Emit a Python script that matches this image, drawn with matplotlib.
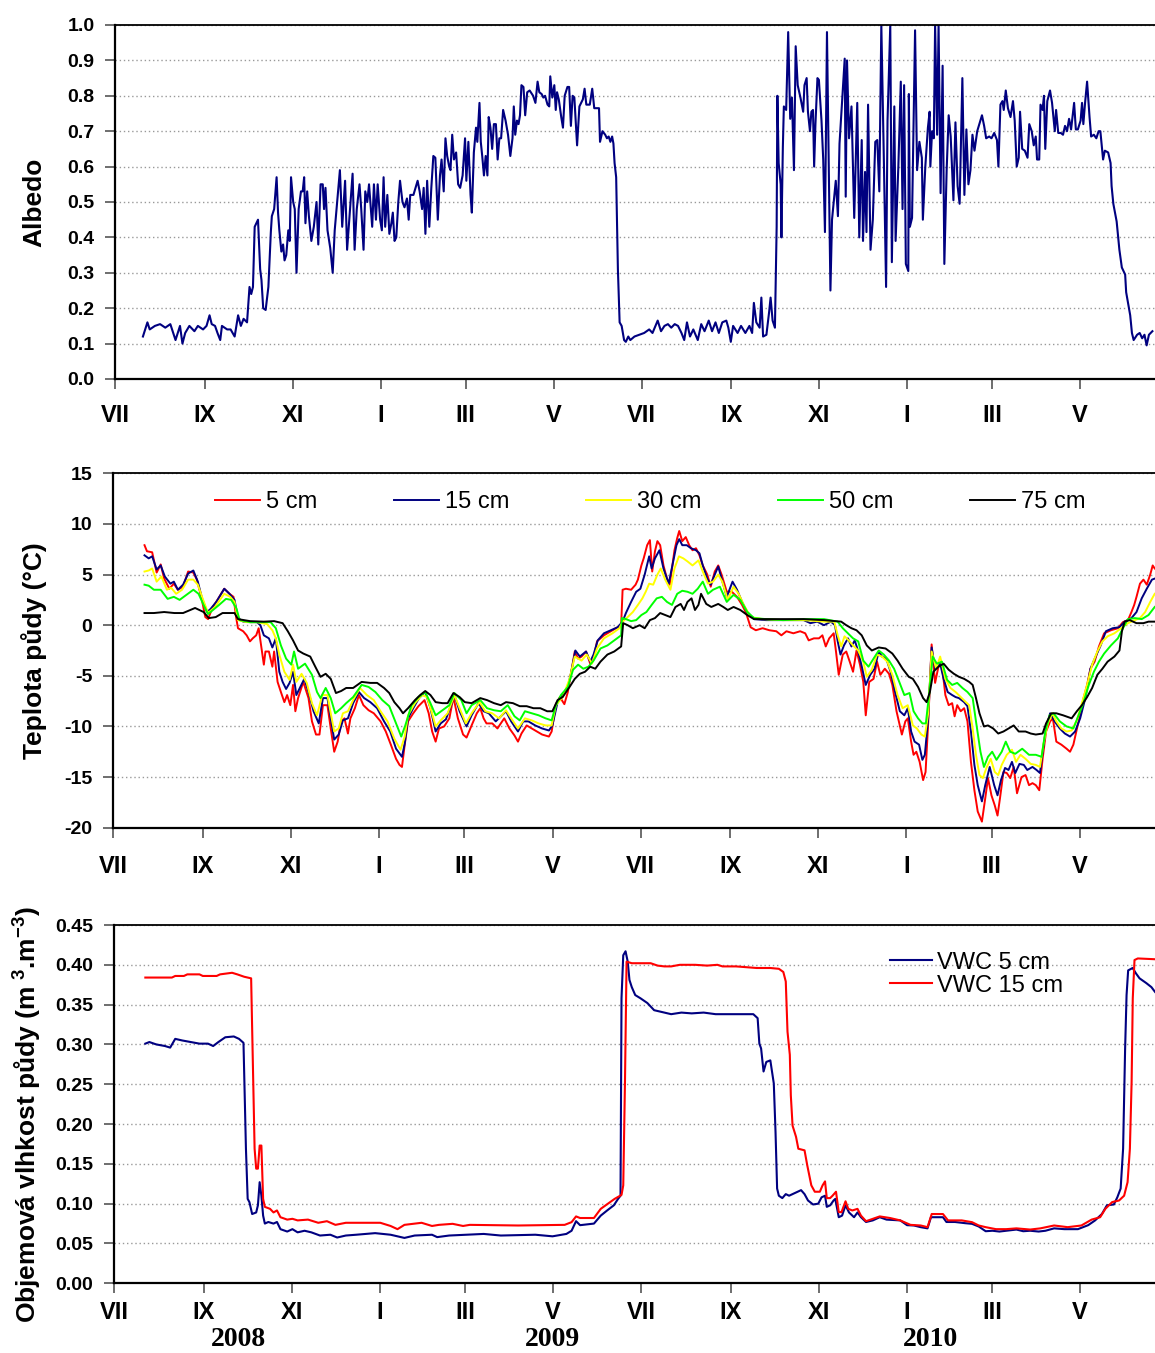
import matplotlib
matplotlib.use("Agg")
import matplotlib.pyplot as plt
import matplotlib.dates as mdates
from matplotlib.ticker import FuncFormatter, FormatStrFormatter, MultipleLocator
import numpy as np
from datetime import datetime

plt.rcParams["font.family"] = ["Liberation Sans", "DejaVu Sans"]
plt.rcParams["mathtext.default"] = "regular"
plt.rcParams["axes.unicode_minus"] = False

# den 0 = 1.7.2008
START = mdates.date2num(datetime(2008, 7, 1))
END_DAY = 721

# --- albedo (den, hodnota) ---
albedo = [
    (19.1, 0.12), (22.2, 0.16), (23.8, 0.14), (27.4, 0.15), (31.0, 0.155), (34.6, 0.145), (38.1, 0.155),
    (39.3, 0.14), (41.7, 0.11), (44.8, 0.15), (46.5, 0.10), (48.4, 0.13), (51.3, 0.15), (54.8, 0.135),
    (57.2, 0.15), (60.8, 0.14), (63.2, 0.15), (65.3, 0.18), (66.8, 0.155), (69.1, 0.15), (70.8, 0.13),
    (72.7, 0.11), (73.9, 0.15), (77.5, 0.14), (79.9, 0.14), (82.7, 0.12), (85.1, 0.18), (87.0, 0.15),
    (88.9, 0.17), (91.3, 0.16), (93.0, 0.26), (94.2, 0.24), (95.4, 0.26), (96.6, 0.43), (98.9, 0.45),
    (100.4, 0.31), (101.3, 0.28), (102.5, 0.20), (104.2, 0.195), (106.1, 0.26), (107.8, 0.415), (108.5, 0.46),
    (110.1, 0.48), (111.8, 0.57), (112.8, 0.47), (113.7, 0.42), (115.1, 0.36), (116.3, 0.38), (117.3, 0.335),
    (118.5, 0.35), (119.9, 0.42), (120.9, 0.39), (121.8, 0.57), (123.3, 0.50), (124.4, 0.48), (125.6, 0.30),
    (127.1, 0.48), (128.7, 0.53), (129.9, 0.53), (130.9, 0.57), (131.8, 0.44), (133.0, 0.53), (134.2, 0.46),
    (135.9, 0.39), (137.6, 0.43), (139.5, 0.50), (140.7, 0.38), (142.3, 0.55), (143.8, 0.55), (144.7, 0.48),
    (145.7, 0.54), (147.1, 0.42), (149.0, 0.37), (150.7, 0.30), (152.1, 0.42), (153.8, 0.50), (155.7, 0.59),
    (157.3, 0.43), (159.3, 0.56), (160.7, 0.365), (162.8, 0.485), (164.5, 0.58), (165.9, 0.365), (167.4, 0.48),
    (169.3, 0.55), (170.5, 0.48), (172.1, 0.365), (173.3, 0.53), (174.7, 0.50), (175.9, 0.55), (178.1, 0.43),
    (179.3, 0.55), (180.7, 0.45), (181.9, 0.55), (183.6, 0.45), (184.8, 0.42), (186.0, 0.57), (187.1, 0.43),
    (188.6, 0.52), (190.0, 0.41), (191.4, 0.44), (192.4, 0.47), (193.6, 0.39), (194.8, 0.40), (196.2, 0.50),
    (197.4, 0.56), (199.1, 0.50), (200.5, 0.485), (202.2, 0.51), (203.4, 0.45), (204.5, 0.52), (206.7, 0.52),
    (209.6, 0.56), (211.0, 0.53), (212.7, 0.48), (213.8, 0.54), (215.0, 0.41), (216.2, 0.56), (217.7, 0.43),
    (219.1, 0.54), (220.5, 0.63), (221.9, 0.625), (223.6, 0.45), (225.1, 0.575), (226.2, 0.62), (227.7, 0.53),
    (228.9, 0.68), (230.1, 0.63), (231.5, 0.60), (232.4, 0.59), (233.6, 0.69), (234.8, 0.62), (236.3, 0.64),
    (237.7, 0.55), (239.1, 0.54), (240.8, 0.575), (242.5, 0.68), (243.4, 0.56), (244.8, 0.67), (246.3, 0.52),
    (247.2, 0.47), (248.6, 0.64), (250.1, 0.71), (251.0, 0.67), (252.5, 0.78), (253.4, 0.67), (254.4, 0.63),
    (255.6, 0.575), (256.8, 0.63), (258.0, 0.575), (258.9, 0.74), (260.1, 0.71), (261.3, 0.65), (262.5, 0.72),
    (263.9, 0.72), (265.1, 0.62), (266.3, 0.68), (267.5, 0.68), (268.9, 0.76), (270.6, 0.73), (272.3, 0.69),
    (273.9, 0.63), (275.4, 0.68), (276.3, 0.77), (277.3, 0.69), (278.5, 0.73), (279.6, 0.72), (280.6, 0.745),
    (281.6, 0.83), (283.0, 0.825), (284.2, 0.745), (285.6, 0.81), (287.3, 0.815), (289.7, 0.80), (291.3, 0.78),
    (292.8, 0.84), (294.0, 0.81), (295.6, 0.805), (296.8, 0.795), (298.0, 0.80), (299.7, 0.775), (300.9, 0.77),
    (301.6, 0.855), (303.0, 0.795), (304.4, 0.83), (305.4, 0.76), (306.3, 0.81), (307.5, 0.79), (309.2, 0.74),
    (310.4, 0.71), (311.6, 0.80), (313.5, 0.825), (314.7, 0.825), (315.9, 0.715), (317.1, 0.80), (318.3, 0.795),
    (320.2, 0.66), (321.8, 0.77), (324.2, 0.79), (325.4, 0.82), (326.6, 0.775), (329.0, 0.775), (330.7, 0.82),
    (332.1, 0.765), (335.4, 0.765), (336.1, 0.67), (337.8, 0.70), (339.7, 0.69), (340.9, 0.68), (342.1, 0.685),
    (343.3, 0.67), (344.5, 0.685), (345.4, 0.665), (346.2, 0.61), (347.3, 0.57), (348.5, 0.31), (349.7, 0.16),
    (351.1, 0.15), (352.8, 0.11), (354.0, 0.105), (355.7, 0.12), (357.1, 0.11), (360.0, 0.12),
    (366.7, 0.13), (370.2, 0.14), (372.5, 0.13), (376.1, 0.165), (378.4, 0.135), (380.8, 0.15), (383.2, 0.155),
    (385.5, 0.145), (387.9, 0.155), (390.2, 0.15), (392.6, 0.13), (394.5, 0.11), (396.4, 0.16), (398.5, 0.12),
    (400.8, 0.14), (403.9, 0.11), (406.3, 0.155), (408.6, 0.135), (411.5, 0.165), (413.8, 0.135), (416.2, 0.16),
    (418.5, 0.13), (420.9, 0.16), (423.7, 0.165), (425.1, 0.145), (426.8, 0.105), (428.4, 0.15), (431.5, 0.13),
    (433.9, 0.15), (436.9, 0.13), (439.7, 0.15), (441.6, 0.13), (442.8, 0.215), (444.5, 0.16), (446.8, 0.145),
    (448.0, 0.23), (449.2, 0.12), (451.5, 0.125), (453.4, 0.19), (454.4, 0.23), (455.8, 0.165), (457.4, 0.145),
    (458.6, 0.43), (459.1, 0.80), (460.0, 0.61), (461.4, 0.55), (461.9, 0.40), (462.9, 0.655), (463.6, 0.77),
    (465.2, 0.76), (466.6, 0.98), (468.0, 0.735), (469.2, 0.795), (470.6, 0.59), (471.8, 0.94), (473.2, 0.83),
    (475.1, 0.795), (477.0, 0.755), (477.9, 0.83), (479.4, 0.85), (480.3, 0.755), (481.7, 0.70), (482.7, 0.755),
    (483.8, 0.76), (484.6, 0.60), (485.5, 0.72), (486.9, 0.85), (487.9, 0.845), (489.7, 0.73), (490.9, 0.62),
    (492.1, 0.415), (493.5, 0.98), (494.9, 0.56), (495.9, 0.25), (497.0, 0.45), (498.7, 0.52), (499.6, 0.56),
    (501.1, 0.46), (502.2, 0.665), (503.9, 0.78), (505.8, 0.905), (506.5, 0.515), (507.4, 0.90), (508.8, 0.68),
    (510.5, 0.77), (512.4, 0.455), (514.5, 0.78), (515.9, 0.40), (517.6, 0.675), (518.5, 0.39), (519.9, 0.585),
    (520.9, 0.415), (522.0, 0.775), (523.7, 0.365), (525.3, 0.45), (527.0, 0.67), (528.4, 0.675), (529.8, 0.53),
    (531.2, 1.0), (532.9, 0.63), (534.5, 0.26), (535.5, 0.73), (537.4, 1.0), (538.5, 0.33), (540.2, 0.77),
    (541.1, 0.39), (543.0, 0.60), (544.7, 0.84), (545.9, 0.48), (547.0, 0.83), (548.2, 0.325), (549.9, 0.305),
    (550.3, 0.805), (551.0, 0.43), (552.5, 0.455), (554.6, 0.985), (556.0, 0.59), (557.6, 0.67), (559.3, 0.625),
    (560.0, 0.45), (561.7, 0.60), (563.5, 0.71), (564.7, 0.755), (565.2, 0.60), (566.4, 0.70), (567.6, 0.68),
    (568.5, 1.0), (569.9, 0.69), (570.9, 1.0), (572.3, 0.525), (573.7, 0.885), (574.9, 0.325), (576.5, 0.59),
    (577.9, 0.745), (579.3, 0.685), (581.2, 0.505), (582.6, 0.725), (584.1, 0.545), (585.5, 0.495), (587.4, 0.85),
    (588.8, 0.52), (590.2, 0.705), (591.6, 0.55), (593.0, 0.59), (594.4, 0.69), (595.8, 0.645), (597.7, 0.70),
    (601.0, 0.745), (602.5, 0.715), (603.9, 0.68), (606.0, 0.685), (607.6, 0.68), (609.5, 0.695), (611.4, 0.675),
    (612.4, 0.60), (613.8, 0.775), (615.2, 0.785), (616.1, 0.76), (617.5, 0.815), (619.0, 0.765), (620.8, 0.74),
    (622.5, 0.785), (623.7, 0.73), (625.1, 0.60), (626.5, 0.625), (627.4, 0.755), (628.9, 0.65), (630.7, 0.645),
    (632.6, 0.625), (633.8, 0.72), (635.5, 0.70), (636.9, 0.66), (638.3, 0.685), (639.2, 0.62), (640.7, 0.62),
    (641.6, 0.775), (643.0, 0.76), (644.0, 0.80), (644.9, 0.65), (646.3, 0.785), (648.2, 0.815), (649.6, 0.78),
    (651.5, 0.70), (652.4, 0.76), (653.9, 0.695), (655.7, 0.695), (657.2, 0.69), (658.6, 0.715), (660.0, 0.70),
    (661.4, 0.735), (662.8, 0.705), (664.9, 0.78), (666.1, 0.705), (667.5, 0.705), (669.4, 0.73), (670.4, 0.78),
    (671.3, 0.72), (672.5, 0.78), (673.9, 0.84), (675.6, 0.74), (676.7, 0.685), (678.6, 0.69), (680.3, 0.68),
    (681.9, 0.70), (683.1, 0.70), (685.0, 0.62), (686.2, 0.645), (688.5, 0.64), (690.2, 0.61), (690.9, 0.545),
    (692.1, 0.495), (694.4, 0.445), (696.3, 0.365), (698.0, 0.315), (700.3, 0.295), (701.0, 0.245), (702.7, 0.205),
    (703.8, 0.18), (705.0, 0.13), (706.2, 0.11), (708.6, 0.125), (710.4, 0.13), (712.1, 0.115), (713.7, 0.125),
    (715.2, 0.095), (716.8, 0.125), (719.2, 0.135),
]

# --- teplota pudy (den, degC) ---
t5 = [
    (21.6, 7.9), (23.3, 7.3), (26.9, 7.2), (30.0, 5.2), (32.8, 6.0), (35.2, 4.6), (38.8, 3.6), (41.9, 4.1),
    (44.7, 3.5), (48.3, 3.8), (51.8, 5.3), (55.4, 5.2), (57.8, 4.5), (60.9, 2.8), (63.7, 0.8), (65.6, 0.6),
    (68.5, 1.7), (72.1, 2.5), (76.8, 3.6), (80.4, 3.1), (83.2, 2.8), (85.1, 0.7), (86.3, -0.3), (89.9, -0.6),
    (92.3, -1.0), (94.6, -1.6), (96.5, -1.3), (98.9, -1.0), (100.6, -0.3), (102.3, -2.0), (104.2, -3.9),
    (105.3, -2.6), (107.7, -2.6), (110.1, -4.1), (111.3, -2.6), (113.7, -5.6), (116.0, -6.6), (118.4, -7.6),
    (120.3, -6.9), (122.5, -7.9), (124.4, -5.9), (126.0, -8.5), (127.9, -7.2), (131.5, -5.6), (135.1, -7.2),
    (137.5, -9.5), (140.3, -10.8), (142.7, -10.8), (145.1, -7.9), (148.2, -7.9), (150.5, -10.2), (152.9, -12.5),
    (155.3, -11.5), (157.7, -9.5), (160.0, -9.2), (162.4, -10.7), (164.1, -9.2), (167.2, -8.2), (170.0, -6.9),
    (173.1, -7.9), (176.7, -8.4), (180.3, -8.7), (185.0, -9.5), (188.6, -10.5), (192.1, -11.8), (195.7, -13.2),
    (198.1, -13.8), (199.8, -14.0), (201.7, -11.8), (204.0, -9.5), (207.6, -8.7), (211.2, -8.0), (215.4, -7.4),
    (218.3, -8.7), (220.7, -10.5), (223.1, -11.5), (225.4, -10.2), (229.0, -10.0), (232.6, -9.2), (235.4, -7.1),
    (238.5, -9.2), (242.1, -10.8), (244.5, -11.1), (248.0, -9.9), (251.6, -8.7), (254.0, -8.2), (256.3, -9.2),
    (258.3, -9.7), (262.3, -9.7), (265.9, -10.2), (268.2, -9.7), (270.6, -9.2), (274.2, -10.2), (277.7, -10.9),
    (280.1, -11.5), (282.5, -10.7), (286.1, -9.9), (289.6, -10.2), (293.2, -10.5), (296.8, -10.8), (301.5, -11.0),
    (303.4, -10.5), (306.3, -7.8), (309.1, -7.1), (312.2, -7.8), (314.6, -6.6), (317.0, -4.6), (319.4, -2.6),
    (321.7, -3.3), (324.1, -3.1), (327.2, -2.6), (330.1, -3.8), (332.4, -3.3), (334.8, -1.6), (339.6, -1.0),
    (344.3, -0.6), (349.1, -0.2), (351.5, 0.0),
    (352.5, 3.5), (354.8, 3.6), (358.4, 3.5), (361.5, 4.0), (363.1, 4.5), (365.5, 5.9), (367.1, 6.6),
    (369.5, 7.9), (371.4, 8.4), (373.0, 5.3), (374.9, 7.3), (376.6, 8.3), (378.5, 7.9), (380.8, 5.9),
    (383.2, 4.6), (385.1, 4.0), (386.7, 5.6), (388.4, 7.4), (390.3, 8.6), (391.7, 9.3), (393.8, 8.3),
    (396.2, 8.7), (398.6, 7.9), (400.9, 7.4), (403.3, 7.6), (405.7, 6.9), (408.0, 5.9), (411.1, 5.0),
    (413.5, 3.8), (416.3, 5.3), (418.7, 5.9), (421.0, 5.0), (424.6, 3.3), (428.1, 3.3), (431.7, 2.8),
    (435.2, 2.0), (438.0, 1.2), (441.1, -0.2), (444.7, -0.5), (449.4, -0.3), (454.1, -0.5), (458.9, -0.6),
    (462.4, -1.0), (465.9, -0.6), (470.7, -0.8), (475.4, -0.6), (478.9, -0.8), (481.3, -1.5), (484.9, -1.3),
    (488.4, -1.3), (490.8, -1.0), (493.1, -2.1), (495.5, -1.3), (498.6, -0.8), (500.2, -2.6), (502.1, -4.9),
    (504.9, -2.9), (507.3, -2.6), (509.7, -3.6), (512.0, -4.6), (514.4, -2.5), (516.8, -3.9), (519.1, -5.6),
    (520.8, -8.9), (523.2, -5.6), (526.2, -5.3), (528.6, -3.6), (530.9, -4.9), (534.0, -4.3), (536.9, -4.8),
    (539.2, -5.9), (542.1, -8.5), (545.8, -10.8), (548.2, -9.5), (549.9, -9.2), (552.2, -11.5), (553.9, -12.8),
    (555.8, -12.5), (558.1, -13.5), (560.5, -15.3), (562.2, -14.5), (564.0, -9.7), (566.4, -1.9), (568.8, -5.7),
    (571.1, -4.1), (573.5, -3.9), (575.9, -6.9), (578.2, -7.9), (580.6, -7.7), (582.3, -9.0), (584.1, -7.9),
    (586.5, -8.5), (588.9, -8.2), (591.2, -9.5), (593.6, -13.5), (596.0, -16.3), (598.3, -18.4), (601.2, -19.4),
    (603.5, -17.1), (605.4, -15.1), (607.8, -16.8), (610.1, -17.8), (612.0, -18.8), (613.7, -17.1), (616.1, -14.5),
    (618.4, -14.6), (620.8, -15.1), (623.2, -14.0), (625.5, -16.6), (628.6, -15.0), (631.4, -14.8), (633.8, -15.8),
    (636.2, -15.6), (638.5, -15.8), (640.9, -16.3), (643.2, -13.2), (645.6, -10.5), (648.4, -9.5), (650.3, -9.2),
    (652.7, -11.5), (656.2, -11.8), (659.8, -12.2), (662.2, -12.5), (664.5, -11.8), (668.1, -9.5), (671.6, -7.2),
    (674.0, -5.9), (676.3, -4.3), (679.2, -3.6), (682.2, -2.1), (685.8, -0.8), (690.5, -0.5), (695.3, -0.3),
    (698.8, 0.3), (702.3, 0.5), (704.7, 1.3), (706.6, 2.0), (708.2, 2.8), (710.6, 4.1), (713.0, 4.5),
    (715.3, 4.0), (717.7, 5.0), (719.4, 5.9), (720.8, 5.6),
]

t15 = [
    (21.6, 6.9), (24.5, 6.6), (26.9, 6.8), (30.0, 5.5), (32.8, 5.9), (35.7, 4.8), (39.5, 4.1), (41.9, 4.3),
    (44.7, 3.5), (48.3, 4.0), (51.8, 5.1), (55.4, 5.4), (58.5, 4.3), (61.4, 2.65), (64.9, 1.3), (67.3, 1.6),
    (71.3, 2.3), (76.8, 3.6), (80.4, 3.1), (83.9, 2.5), (86.3, 0.7), (89.9, 0.35), (94.6, 0.3), (99.4, 0.3),
    (101.8, 0.0), (104.2, -1.0), (107.7, -1.3), (110.1, -2.2), (112.5, -1.3), (114.9, -4.6), (117.2, -5.6),
    (119.6, -6.3), (122.0, -5.7), (124.4, -4.6), (126.7, -6.9), (129.1, -6.2), (132.2, -5.3), (135.1, -6.6),
    (138.6, -8.5), (142.2, -9.7), (145.1, -7.2), (148.2, -7.2), (150.5, -9.2), (152.9, -11.3), (156.0, -10.8),
    (158.9, -9.4), (162.4, -9.2), (166.0, -7.7), (170.0, -6.6), (173.6, -7.2), (177.9, -7.6), (182.6, -8.2),
    (187.4, -9.5), (191.7, -10.5), (195.7, -12.2), (199.8, -13.0), (201.7, -11.7), (204.0, -9.2), (207.6, -8.2),
    (211.6, -7.2), (215.9, -6.6), (219.5, -8.2), (223.1, -10.5), (226.6, -9.7), (230.2, -9.3), (233.8, -7.9),
    (236.1, -6.9), (239.7, -8.5), (244.5, -10.0), (248.0, -8.9), (252.8, -7.7), (256.3, -8.5), (259.9, -8.7),
    (264.7, -9.5), (268.2, -9.0), (271.8, -8.5), (275.4, -9.5), (280.1, -10.5), (283.7, -9.5), (287.3, -9.5),
    (292.0, -9.9), (296.8, -10.2), (301.5, -10.4), (303.9, -9.9), (307.5, -7.6), (311.0, -6.9), (314.6, -6.1),
    (317.0, -4.6), (319.8, -2.5), (322.9, -3.1), (327.2, -2.6), (330.1, -3.6), (332.4, -2.9), (335.3, -1.5),
    (339.6, -0.8), (344.3, -0.5), (349.1, -0.2),
    (352.5, 0.35), (354.8, 1.2), (358.4, 2.3), (361.9, 3.3), (364.8, 3.6), (367.8, 5.0), (370.9, 6.8),
    (372.6, 5.6), (374.9, 6.6), (378.0, 7.4), (380.8, 5.6), (384.4, 4.1), (387.5, 6.3), (389.8, 7.9),
    (391.7, 8.5), (393.8, 7.9), (396.9, 7.9), (399.8, 7.6), (403.3, 7.4), (405.7, 7.1), (408.0, 5.9),
    (411.1, 4.6), (413.5, 4.0), (416.3, 5.0), (418.7, 5.8), (421.0, 4.6), (424.6, 2.8), (428.6, 4.3),
    (431.7, 3.5), (435.2, 2.3), (438.8, 1.3), (443.5, 0.6), (451.8, 0.5), (461.2, 0.5), (470.7, 0.5),
    (477.8, 0.5), (482.5, 0.2), (487.2, 0.35), (491.9, 0.0), (496.7, 0.35), (499.5, 0.0), (501.4, -1.6),
    (503.3, -2.9), (505.7, -2.0), (508.5, -1.3), (510.9, -2.1), (513.2, -1.5), (515.6, -2.6), (518.4, -4.3),
    (520.8, -5.9), (523.9, -4.9), (526.9, -4.3), (529.8, -2.6), (532.1, -3.1), (535.0, -3.3), (538.0, -4.6),
    (541.1, -6.6), (544.4, -8.5), (547.5, -8.9), (549.9, -8.2), (552.2, -10.5), (554.6, -11.5), (557.7, -11.8),
    (560.0, -13.3), (561.7, -12.8), (564.0, -9.2), (566.4, -2.2), (568.8, -4.3), (572.3, -3.8), (574.7, -5.3),
    (577.5, -6.6), (580.6, -6.9), (583.0, -7.1), (585.3, -7.2), (588.9, -7.6), (591.2, -8.0), (593.6, -10.5),
    (596.0, -13.8), (598.3, -15.8), (601.2, -17.4), (603.5, -15.8), (606.6, -14.0), (609.7, -15.8), (612.0, -16.8),
    (614.4, -15.3), (617.2, -14.1), (619.6, -14.3), (622.0, -13.5), (624.3, -14.6), (627.2, -13.7), (630.2, -13.8),
    (632.6, -14.3), (636.2, -14.0), (639.0, -14.3), (641.4, -14.6), (643.2, -12.5), (645.6, -10.2), (648.4, -8.7),
    (651.5, -9.5), (655.1, -10.2), (658.6, -10.7), (662.2, -11.0), (665.7, -10.5), (669.2, -9.2), (672.8, -7.2),
    (676.3, -4.3), (679.9, -3.1), (683.4, -2.0), (687.0, -0.6), (691.7, -0.3), (696.4, -0.2), (700.0, 0.35),
    (704.7, 0.7), (708.2, 1.3), (711.8, 2.65), (715.3, 3.6), (718.9, 4.5), (720.8, 4.6),
]

t30 = [
    (21.6, 5.3), (24.5, 5.4), (26.9, 5.6), (30.0, 4.3), (33.3, 4.8), (37.1, 3.5), (40.0, 3.7), (43.5, 3.1),
    (47.6, 3.5), (51.8, 4.5), (55.4, 4.5), (58.5, 4.0), (61.8, 2.65), (65.6, 1.2), (70.4, 1.8), (76.8, 3.1),
    (80.9, 2.8), (83.9, 2.3), (86.3, 0.5), (92.3, 0.3), (99.4, 0.3), (106.5, 0.1), (110.1, -0.5), (112.5, -1.3),
    (114.9, -2.9), (118.4, -4.6), (122.0, -5.4), (124.4, -3.9), (126.7, -5.6), (130.3, -4.8), (133.9, -5.7),
    (137.5, -7.7), (141.0, -8.9), (144.6, -6.9), (148.2, -6.9), (150.5, -8.7), (152.9, -10.5), (156.0, -10.2),
    (158.9, -8.7), (162.4, -8.5), (166.0, -7.4), (170.7, -6.2), (175.5, -6.9), (180.3, -7.4), (185.0, -8.5),
    (189.8, -9.5), (194.5, -11.2), (198.8, -12.3), (201.7, -11.0), (204.0, -8.9), (208.8, -7.7), (213.5, -6.9),
    (217.1, -7.1), (220.2, -8.5), (223.1, -10.0), (226.6, -9.4), (231.4, -8.7), (236.1, -6.9), (239.7, -8.2),
    (244.0, -9.7), (248.0, -8.7), (253.5, -7.6), (257.5, -8.5), (262.3, -8.7), (267.0, -9.2), (271.8, -8.4),
    (275.4, -9.2), (280.1, -10.2), (284.9, -9.2), (289.6, -9.4), (294.4, -9.7), (299.2, -9.9), (303.4, -9.9),
    (306.3, -7.9), (311.0, -7.1), (315.8, -5.3), (319.4, -3.1), (324.1, -3.5), (327.7, -2.9), (331.3, -3.8),
    (334.8, -2.3), (339.6, -1.3), (345.5, -0.8), (350.3, -0.3),
    (352.5, 0.35), (356.0, 0.8), (359.6, 1.3), (363.1, 2.0), (366.2, 2.65), (368.5, 3.3), (370.9, 4.1),
    (373.7, 4.0), (376.6, 5.0), (378.9, 5.6), (382.0, 4.5), (385.6, 3.5), (388.4, 5.6), (391.5, 6.8),
    (394.5, 6.6), (397.4, 6.3), (400.9, 5.9), (405.0, 6.4), (408.0, 5.3), (411.6, 4.1), (415.1, 4.3),
    (418.7, 5.0), (421.5, 4.3), (425.3, 2.5), (429.3, 3.8), (432.8, 3.1), (436.4, 2.0), (441.1, 0.8),
    (449.4, 0.6), (463.6, 0.5), (477.8, 0.5), (491.9, 0.35), (499.0, 0.35), (501.4, -1.0), (503.8, -2.1),
    (506.1, -1.1), (509.0, -1.5), (512.0, -2.0), (515.6, -2.5), (519.1, -3.6), (521.5, -5.1), (525.0, -4.4),
    (528.6, -2.9), (532.1, -3.1), (535.7, -3.6), (539.2, -4.9), (542.8, -6.9), (546.3, -8.2), (549.9, -7.9),
    (553.4, -9.9), (556.2, -10.2), (559.3, -10.8), (561.7, -11.0), (564.0, -8.7), (566.4, -2.6), (569.5, -4.3),
    (572.3, -3.1), (575.9, -5.3), (579.4, -6.2), (583.0, -6.6), (586.5, -7.1), (590.1, -7.6), (592.4, -7.9),
    (594.8, -10.2), (597.1, -12.8), (599.5, -14.8), (601.9, -15.1), (604.3, -14.1), (607.3, -13.2), (610.1, -14.5),
    (612.5, -14.8), (614.9, -13.8), (618.4, -12.8), (622.0, -12.3), (624.8, -13.5), (627.9, -12.8), (631.4, -13.2),
    (635.0, -13.7), (638.5, -13.8), (641.4, -14.0), (643.7, -11.8), (646.8, -9.7), (649.9, -8.7), (652.7, -9.5),
    (656.2, -10.2), (659.8, -10.5), (663.3, -10.4), (666.9, -9.4), (670.4, -7.7), (674.0, -5.9), (677.5, -3.9),
    (681.1, -2.6), (684.6, -1.6), (688.2, -1.1), (692.9, -0.8), (697.6, -0.3), (702.3, 0.2), (707.1, 0.5),
    (710.6, 0.7), (714.2, 1.3), (717.7, 2.3), (720.8, 3.1),
]

t50 = [
    (21.6, 4.0), (24.5, 3.9), (28.1, 3.5), (32.8, 3.5), (37.6, 2.6), (41.9, 2.8), (45.9, 2.5), (50.7, 3.0),
    (55.4, 3.5), (59.0, 3.1), (62.5, 2.0), (65.6, 1.1), (69.0, 1.5), (73.2, 2.0), (78.0, 2.6), (81.6, 2.5),
    (85.1, 1.7), (87.5, 0.5), (94.6, 0.3), (101.8, 0.3), (108.9, 0.3), (112.5, -0.3), (116.0, -2.0),
    (119.6, -3.3), (123.2, -3.9), (125.1, -2.6), (127.9, -4.3), (132.7, -3.8), (137.5, -4.9), (141.0, -6.6),
    (143.4, -7.2), (147.0, -6.2), (150.5, -7.2), (153.6, -8.7), (157.7, -8.2), (161.2, -7.7), (166.0, -7.1),
    (171.9, -5.9), (176.7, -6.1), (181.4, -6.6), (186.2, -7.4), (191.0, -8.0), (195.7, -9.7), (199.3, -11.0),
    (202.1, -9.9), (206.4, -7.9), (211.2, -7.1), (215.9, -6.6), (219.5, -7.7), (223.1, -8.9), (227.8, -8.4),
    (232.6, -7.9), (236.1, -6.7), (240.9, -7.4), (244.5, -8.7), (248.0, -7.9), (254.0, -7.4), (258.7, -8.2),
    (263.5, -8.4), (268.2, -8.5), (273.0, -7.9), (277.7, -9.0), (281.3, -9.4), (284.9, -8.5), (289.6, -8.7),
    (294.4, -8.9), (299.2, -9.2), (303.4, -9.4), (306.3, -7.9), (309.8, -6.9), (314.6, -6.1), (318.2, -4.4),
    (321.7, -3.9), (325.3, -4.3), (328.9, -4.1), (332.4, -3.5), (337.2, -2.3), (342.0, -2.0), (346.7, -1.5),
    (351.5, -1.0),
    (352.0, 0.7), (354.8, 0.6), (358.4, 0.4), (361.9, 0.5), (365.5, 1.0), (369.0, 1.3), (372.6, 2.0),
    (376.1, 2.65), (379.7, 2.8), (383.2, 2.3), (386.7, 2.0), (390.3, 3.1), (393.8, 3.4), (397.4, 3.3),
    (400.9, 3.1), (404.5, 3.6), (408.0, 4.3), (411.6, 3.1), (415.1, 3.5), (419.8, 3.8), (424.6, 2.3),
    (429.3, 3.0), (434.0, 2.5), (438.8, 1.3), (443.5, 0.7), (451.8, 0.6), (463.6, 0.5), (477.8, 0.6),
    (491.9, 0.6), (501.4, 0.35), (504.9, -0.3), (508.5, -0.8), (512.0, -1.3), (515.6, -1.6), (519.1, -3.5),
    (522.7, -4.1), (526.2, -3.3), (529.8, -2.5), (533.3, -2.9), (536.9, -3.5), (540.4, -4.3), (544.0, -5.6),
    (547.5, -6.9), (551.1, -6.7), (553.9, -8.5), (557.0, -9.2), (560.0, -9.7), (562.4, -9.7), (564.8, -6.6),
    (567.1, -3.1), (570.0, -3.8), (573.5, -3.6), (577.1, -5.4), (580.6, -5.9), (584.1, -5.7), (587.7, -6.2),
    (591.2, -6.6), (594.8, -7.2), (597.1, -9.5), (600.2, -12.5), (602.6, -14.0), (605.4, -13.0), (608.3, -12.5),
    (611.3, -13.3), (614.9, -12.5), (617.7, -11.5), (620.8, -12.5), (624.3, -12.7), (629.1, -12.2), (633.8, -12.8),
    (638.5, -12.8), (642.5, -13.0), (645.1, -10.5), (648.0, -8.9), (650.8, -8.7), (655.1, -9.5), (659.8, -10.0),
    (664.5, -10.2), (668.1, -8.9), (671.6, -7.6), (675.2, -5.9), (678.7, -4.6), (682.2, -3.6), (685.8, -2.8),
    (690.5, -2.0), (695.3, -1.3), (698.8, -0.3), (702.3, 0.6), (707.1, 0.7), (711.8, 0.6), (716.5, 1.0),
    (720.8, 1.8),
]

t75 = [
    (21.6, 1.2), (28.1, 1.2), (35.2, 1.3), (42.3, 1.2), (48.3, 1.2), (56.6, 1.7), (62.5, 1.3), (66.1, 0.7),
    (70.9, 0.8), (75.6, 1.2), (83.9, 1.2), (86.3, 0.6), (94.6, 0.4), (104.2, 0.35), (111.3, 0.4), (117.2, 0.2),
    (120.8, -0.6), (124.4, -1.5), (127.9, -2.5), (131.5, -2.8), (136.3, -3.1), (139.8, -4.1), (143.4, -5.1),
    (147.0, -4.8), (150.5, -5.3), (154.1, -6.7), (157.7, -6.5), (161.2, -6.2), (166.0, -6.2), (171.9, -5.6),
    (177.9, -5.7), (182.6, -5.7), (187.4, -6.2), (191.0, -6.7), (194.5, -7.6), (198.1, -8.2), (200.5, -8.7),
    (204.0, -8.2), (208.8, -7.4), (212.4, -6.9), (215.9, -6.5), (219.5, -6.9), (223.1, -7.6), (227.8, -7.7),
    (231.4, -7.7), (235.4, -6.7), (239.7, -7.1), (243.3, -7.6), (248.0, -7.7), (254.0, -7.2), (258.7, -7.4),
    (263.5, -7.7), (268.2, -7.9), (271.8, -7.6), (276.6, -7.7), (281.3, -8.0), (286.1, -8.0), (290.8, -8.2),
    (295.6, -8.2), (300.3, -8.5), (303.9, -8.5), (307.5, -7.4), (311.0, -7.1), (315.8, -6.1), (319.4, -5.3),
    (322.9, -4.8), (326.5, -4.6), (330.1, -4.1), (333.6, -4.3), (337.2, -3.6), (342.0, -2.9), (346.7, -2.6),
    (351.5, -2.1),
    (352.9, 0.2), (356.0, 0.0), (359.6, -0.3), (364.3, 0.0), (367.8, -0.3), (371.4, 0.5), (374.9, 0.7),
    (378.5, 1.2), (382.0, 1.0), (385.6, 0.8), (389.1, 1.8), (392.7, 2.1), (395.0, 1.5), (397.4, 2.3),
    (400.2, 2.65), (402.6, 1.5), (405.0, 2.0), (406.8, 3.1), (410.4, 2.1), (413.9, 1.8), (418.7, 2.1),
    (422.2, 1.8), (425.3, 1.5), (429.3, 1.8), (434.0, 1.5), (438.8, 1.0), (443.5, 0.6), (451.8, 0.6),
    (463.6, 0.6), (477.8, 0.6), (491.9, 0.5), (503.8, 0.35), (507.3, 0.0), (510.9, -0.3), (514.4, -0.5),
    (518.0, -1.0), (521.5, -2.0), (525.0, -2.5), (529.8, -2.2), (534.5, -2.3), (539.2, -2.8), (542.8, -3.5),
    (546.3, -4.3), (550.6, -5.1), (553.4, -5.3), (557.0, -6.1), (560.5, -7.2), (562.9, -7.6), (565.2, -6.6),
    (567.6, -4.6), (571.1, -4.1), (574.7, -3.8), (578.2, -4.4), (581.8, -4.8), (585.3, -5.1), (588.9, -5.3),
    (592.4, -5.6), (594.8, -5.9), (597.1, -7.2), (599.5, -8.7), (602.6, -10.0), (605.4, -9.9), (609.0, -10.2),
    (612.5, -10.7), (616.1, -10.5), (619.6, -10.2), (623.2, -9.9), (626.7, -10.5), (631.4, -10.5), (635.0, -10.7),
    (638.5, -10.8), (643.2, -10.7), (645.6, -9.7), (649.2, -8.7), (652.7, -8.7), (657.4, -8.9), (663.3, -9.2),
    (666.9, -8.5), (670.4, -7.9), (674.0, -7.1), (677.5, -6.2), (681.1, -4.9), (684.6, -4.3), (688.2, -3.6),
    (692.9, -3.1), (696.4, -2.5), (698.1, -0.6), (700.0, 0.35), (703.5, 0.5), (708.2, 0.2), (713.0, 0.2),
    (716.5, 0.35), (720.8, 0.35),
]

# --- objemova vlhkost (den, m3/m3) ---
vwc5 = [
    (21.5, 0.301), (24.3, 0.303), (29.1, 0.300), (35.1, 0.298), (38.7, 0.296), (42.2, 0.307), (47.0, 0.305),
    (53.0, 0.303), (59.0, 0.301), (64.9, 0.301), (68.5, 0.298), (72.1, 0.303), (76.9, 0.309), (82.8, 0.310),
    (86.4, 0.307), (89.5, 0.302), (91.2, 0.169), (92.4, 0.106), (93.6, 0.102), (95.5, 0.087), (98.3, 0.089),
    (99.5, 0.098), (100.7, 0.127), (101.9, 0.110), (103.1, 0.085), (104.3, 0.075), (106.7, 0.077),
    (110.3, 0.075), (112.7, 0.077), (115.1, 0.068), (119.8, 0.065), (123.4, 0.068), (127.0, 0.064),
    (131.8, 0.066), (136.5, 0.064), (142.5, 0.060), (149.7, 0.061), (154.4, 0.0575), (160.4, 0.060),
    (167.6, 0.061), (180.7, 0.063), (191.4, 0.061), (201.0, 0.057), (208.1, 0.060), (220.1, 0.061),
    (223.7, 0.058), (232.0, 0.060), (255.9, 0.062), (267.8, 0.060), (291.7, 0.061), (303.6, 0.059),
    (313.2, 0.062), (316.8, 0.066), (319.9, 0.078), (322.7, 0.073), (332.3, 0.075), (337.0, 0.085),
    (341.8, 0.092), (346.1, 0.098), (349.0, 0.106), (350.7, 0.110), (351.4, 0.358), (352.6, 0.412),
    (354.2, 0.417), (355.7, 0.404), (356.9, 0.381), (358.5, 0.372), (360.9, 0.362), (364.5, 0.358),
    (369.3, 0.352), (374.0, 0.343), (378.7, 0.341), (385.8, 0.338), (392.9, 0.340), (400.0, 0.339),
    (408.3, 0.340), (416.6, 0.338), (442.7, 0.338), (445.7, 0.333), (446.9, 0.301), (448.1, 0.295),
    (449.8, 0.266), (451.7, 0.278), (454.5, 0.280), (456.9, 0.251), (458.1, 0.190), (459.2, 0.119),
    (460.4, 0.110), (462.8, 0.107), (465.2, 0.112), (467.5, 0.110), (469.9, 0.112), (473.5, 0.115),
    (475.8, 0.117), (478.2, 0.112), (480.6, 0.104), (484.1, 0.099), (487.7, 0.100), (490.0, 0.108),
    (492.4, 0.110), (493.6, 0.096), (496.0, 0.098), (498.3, 0.104), (499.5, 0.106), (501.9, 0.083),
    (504.2, 0.085), (506.6, 0.098), (509.0, 0.089), (512.5, 0.083), (514.9, 0.089), (517.3, 0.083),
    (520.8, 0.077), (525.5, 0.079), (530.3, 0.083), (535.0, 0.080), (544.5, 0.079), (549.2, 0.073),
    (554.0, 0.0726), (558.7, 0.0705), (563.4, 0.069), (565.8, 0.083), (574.1, 0.083), (576.5, 0.077),
    (582.4, 0.077), (589.5, 0.0755), (594.2, 0.0747), (598.9, 0.0713), (603.7, 0.0654), (608.4, 0.066),
    (613.2, 0.065), (617.9, 0.066), (625.0, 0.0675), (629.7, 0.0654), (634.5, 0.066), (640.4, 0.065),
    (645.1, 0.066), (651.1, 0.069), (658.2, 0.068), (667.6, 0.068), (674.7, 0.073), (679.5, 0.079),
    (684.2, 0.087), (687.7, 0.098), (692.5, 0.099), (694.9, 0.108), (697.2, 0.119), (698.9, 0.169),
    (700.3, 0.295), (701.3, 0.362), (702.4, 0.393), (705.5, 0.396), (707.9, 0.389), (710.3, 0.383),
    (715.0, 0.377), (718.5, 0.372), (721.0, 0.366),
]

vwc15 = [
    (21.5, 0.384), (39.9, 0.384), (42.2, 0.386), (48.2, 0.386), (50.6, 0.388), (59.0, 0.388), (61.3, 0.386),
    (70.9, 0.386), (73.3, 0.388), (81.6, 0.390), (85.2, 0.388), (90.0, 0.385), (94.8, 0.383), (96.0, 0.274),
    (97.2, 0.169), (98.3, 0.144), (99.5, 0.144), (100.7, 0.173), (101.9, 0.173), (103.1, 0.106),
    (104.3, 0.096), (107.9, 0.0935), (110.3, 0.089), (112.7, 0.0915), (115.1, 0.083), (119.8, 0.080),
    (123.4, 0.081), (127.0, 0.079), (134.2, 0.080), (141.3, 0.076), (147.3, 0.078), (153.2, 0.0734),
    (160.4, 0.076), (184.3, 0.076), (191.4, 0.072), (196.2, 0.068), (201.0, 0.0734), (212.9, 0.076),
    (220.1, 0.072), (224.9, 0.0734), (234.4, 0.0747), (241.6, 0.072), (246.3, 0.0734), (279.8, 0.0726),
    (312.0, 0.0734), (316.8, 0.0768), (319.9, 0.084), (322.7, 0.082), (332.3, 0.082), (337.0, 0.0935),
    (341.8, 0.0998), (346.6, 0.106), (351.4, 0.111), (352.6, 0.123), (353.8, 0.253), (354.9, 0.404),
    (358.5, 0.402), (364.5, 0.402), (371.6, 0.402), (376.4, 0.399), (381.1, 0.398), (385.8, 0.398),
    (391.8, 0.400), (402.4, 0.400), (410.7, 0.399), (417.8, 0.400), (421.4, 0.398), (430.8, 0.398),
    (445.0, 0.396), (454.5, 0.396), (460.4, 0.395), (463.5, 0.391), (465.2, 0.379), (466.4, 0.316),
    (468.0, 0.287), (468.7, 0.236), (469.9, 0.198), (472.3, 0.184), (473.9, 0.169), (478.2, 0.167),
    (480.1, 0.148), (482.9, 0.123), (485.3, 0.115), (488.8, 0.115), (490.7, 0.123), (492.4, 0.128),
    (493.6, 0.107), (495.9, 0.107), (497.6, 0.110), (500.0, 0.115), (501.9, 0.0894), (503.8, 0.0894),
    (506.6, 0.103), (508.5, 0.0935), (511.3, 0.0915), (514.9, 0.0935), (517.3, 0.085), (520.8, 0.078),
    (525.5, 0.081), (530.3, 0.084), (537.4, 0.082), (544.5, 0.079), (551.6, 0.0734), (558.7, 0.0726),
    (563.4, 0.0705), (566.3, 0.087), (574.1, 0.087), (577.6, 0.079), (587.1, 0.079), (594.2, 0.0768),
    (598.9, 0.0726), (603.7, 0.0705), (610.8, 0.068), (617.9, 0.068), (625.0, 0.069), (634.5, 0.0675),
    (641.6, 0.069), (651.1, 0.0726), (660.5, 0.0705), (670.0, 0.0726), (677.1, 0.080), (683.0, 0.083),
    (686.6, 0.0935), (691.3, 0.102), (696.1, 0.104), (699.6, 0.110), (702.0, 0.127), (703.6, 0.169),
    (704.8, 0.253), (705.6, 0.358), (706.8, 0.406), (709.1, 0.408), (721.0, 0.407),
]

roman = {1: "I", 3: "III", 5: "V", 7: "VII", 9: "IX", 11: "XI"}
years = ["2008", "2009", "2010"]
year_x_px = [238, 553, 931]


def xy(pairs):
    a = np.array(pairs, dtype=float)
    return START + a[:, 0], a[:, 1]


W, H = 1155, 1353
fig = plt.figure(figsize=(W / 100, H / 100), dpi=100)


def style_axes(ax, xpad):
    ax.set_xlim(START, START + END_DAY)
    ax.spines["right"].set_visible(False)
    ax.spines["left"].set_linewidth(1.6)
    ax.spines["bottom"].set_linewidth(1.6)
    ax.spines["top"].set_linewidth(1.3)
    ax.xaxis.set_major_locator(mdates.MonthLocator(bymonth=[1, 3, 5, 7, 9, 11]))
    ax.xaxis.set_major_formatter(FuncFormatter(lambda x, pos: roman[mdates.num2date(x).month]))
    ax.tick_params(axis="x", direction="out", length=7, width=1.2, color="#555555",
                   labelsize=17, pad=xpad)
    ax.tick_params(axis="y", direction="out", length=7, width=1.2, color="#555555",
                   labelsize=14, pad=8)
    for lab in ax.get_xticklabels() + ax.get_yticklabels():
        lab.set_fontweight("bold")
    ax.yaxis.grid(True, linestyle=(0, (1, 2)), color="#999999", linewidth=1.0)
    ax.set_axisbelow(True)


# --- albedo ---
ax1 = fig.add_axes([115.4 / W, 1 - 379 / H, (W - 115.4) / W, 354 / H])
x, y = xy(albedo)
ax1.plot(x, y, color="#000080", lw=1.5)
ax1.set_ylim(0, 1.0)
ax1.yaxis.set_major_locator(MultipleLocator(0.1))
ax1.yaxis.set_major_formatter(FormatStrFormatter("%.1f"))
style_axes(ax1, 11)
ax1.set_ylabel("Albedo", fontsize=19, fontweight="bold")
ax1.yaxis.set_label_coords(-0.066, 0.5)

# --- teplota ---
ax2 = fig.add_axes([113.3 / W, 1 - 827.7 / H, (W - 113.3) / W, 354.4 / H])
for pairs, col, lab in [(t5, "#FF0000", "5 cm"), (t15, "#000080", "15 cm"), (t30, "#FFFF00", "30 cm"),
                        (t50, "#00FF00", "50 cm"), (t75, "#000000", "75 cm")]:
    x, y = xy(pairs)
    ax2.plot(x, y, color=col, lw=1.4, label=lab)
ax2.set_ylim(-20, 15)
ax2.yaxis.set_major_locator(MultipleLocator(5))
style_axes(ax2, 13)
ax2.set_ylabel("Teplota půdy (°C)", fontsize=19, fontweight="bold")
ax2.yaxis.set_label_coords(-0.064, 0.5)
ax2.legend(ncol=5, loc="upper left", bbox_to_anchor=(0.098, 0.95), frameon=False, fontsize=17,
           handlelength=1.9, handletextpad=0.25, columnspacing=3.25, borderaxespad=0, borderpad=0)

# --- vlhkost ---
ax3 = fig.add_axes([114.3 / W, 1 - 1283.3 / H, (W - 114.3) / W, 358.3 / H])
x, y = xy(vwc5)
ax3.plot(x, y, color="#000080", lw=1.5, label="VWC 5 cm")
x, y = xy(vwc15)
ax3.plot(x, y, color="#FF0000", lw=1.5, label="VWC 15 cm")
ax3.set_ylim(0, 0.45)
ax3.yaxis.set_major_locator(MultipleLocator(0.05))
ax3.yaxis.set_major_formatter(FormatStrFormatter("%.2f"))
style_axes(ax3, 6)
ax3.set_ylabel("Objemová vlhkost půdy (m$^{\\ 3}$.m$^{-3}$)", fontsize=19, fontweight="bold")
ax3.yaxis.set_label_coords(-0.068, 0.47)
ax3.legend(loc="upper left", bbox_to_anchor=(0.745, 0.926), frameon=False, fontsize=17,
           handlelength=1.8, handletextpad=0.2, labelspacing=0.05, borderaxespad=0, borderpad=0)

# roky pod osou
for yr, xp in zip(years, year_x_px):
    fig.text(xp / W, 1 - 1352 / H, yr, ha="center", va="bottom", fontsize=20,
             fontweight="bold", family="Liberation Serif")

fig.savefig("out.png", dpi=100)
